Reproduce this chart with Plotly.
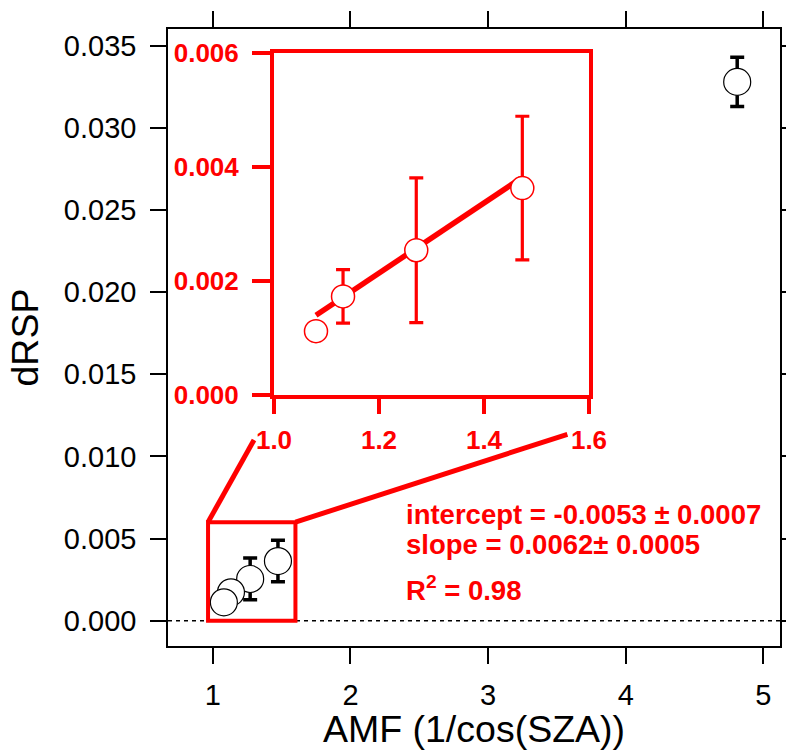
import plotly.graph_objects as go

# ---------------- data ----------------
amf = [4.81, 1.473, 1.271, 1.1315, 1.08]
drsp = [0.0328, 0.00363, 0.00254, 0.00173, 0.00112]
drsp_err = [0.0015, 0.00126, 0.00127, 0.00047, 0.0]

inset_amf = [1.473, 1.271, 1.1315, 1.08]
inset_drsp = [0.00363, 0.00254, 0.00173, 0.00112]
inset_err = [0.00126, 0.00127, 0.00047, 0.0]

fit_x = [1.08, 1.47]
fit_y = [0.0014, 0.0038]

x_ticks = [1, 2, 3, 4, 5]
y_ticks = [0.000, 0.005, 0.010, 0.015, 0.020, 0.025, 0.030, 0.035]
inset_x_ticks = [1.0, 1.2, 1.4, 1.6]
inset_y_ticks = [0.000, 0.002, 0.004, 0.006]

zoom_box_x = [0.965, 1.6]
zoom_box_y = [0.0, 0.006]
link_left_end = [1.299, 0.0110]
link_right_end = [3.576, 0.01135]

fit_text = ["intercept = -0.0053 ± 0.0007",
            "slope = 0.0062± 0.0005",
            "R<sup>2</sup> = 0.98"]

# ---------------- figure ----------------
FONT = "Liberation Sans, Arial, sans-serif"
RED = "#ff0000"

fig = go.Figure()

fig.add_trace(go.Scatter(
    x=amf, y=drsp, mode="markers",
    marker=dict(symbol="circle", size=27, color="white",
                line=dict(color="black", width=1.2)),
    error_y=dict(type="data", array=drsp_err, visible=True,
                 color="black", thickness=3.5, width=7),
    xaxis="x", yaxis="y", hoverinfo="skip"))

fig.add_trace(go.Scatter(
    x=fit_x, y=fit_y, mode="lines",
    line=dict(color=RED, width=5.5),
    xaxis="x2", yaxis="y2", hoverinfo="skip"))

fig.add_trace(go.Scatter(
    x=inset_amf, y=inset_drsp, mode="markers",
    marker=dict(symbol="circle", size=23, color="white",
                line=dict(color=RED, width=1.5)),
    error_y=dict(type="data", array=inset_err, visible=True,
                 color=RED, thickness=3.2, width=7),
    xaxis="x2", yaxis="y2", hoverinfo="skip"))

main_axis = dict(showgrid=False, zeroline=False, showline=True,
                 linecolor="black", linewidth=1.5, mirror="allticks",
                 ticks="outside", ticklen=16, tickwidth=1.5,
                 tickcolor="black", automargin=False,
                 tickfont=dict(family=FONT, size=29, color="black"))

inset_axis = dict(showgrid=False, zeroline=False, showline=True,
                  linecolor=RED, linewidth=4, mirror=True,
                  ticks="outside", tickwidth=3.5, tickcolor=RED,
                  automargin=False,
                  tickfont=dict(family=FONT, size=26, color=RED,
                                weight="bold"))

fig.update_layout(
    width=786, height=750,
    margin=dict(l=168, r=6, t=29, b=104),
    plot_bgcolor="white", paper_bgcolor="white",
    showlegend=False,
    font=dict(family=FONT, color="black"),
    xaxis=dict(main_axis, range=[0.674, 5.121], tickvals=x_ticks,
               ticklabelstandoff=6,
               title=dict(text="AMF (1/cos(SZA))", standoff=1,
                          font=dict(family=FONT, size=37.5, color="black"))),
    yaxis=dict(main_axis, range=[-0.00154, 0.03602], tickvals=y_ticks,
               tickformat=".3f", ticklabelstandoff=8,
               title=dict(text="dRSP", standoff=14,
                          font=dict(family=FONT, size=37.5, color="black"))),
    xaxis2=dict(inset_axis, domain=[0.1732, 0.6879], anchor="y2",
                range=[1.0, 1.6], tickvals=inset_x_ticks,
                tickformat=".1f", ticklen=15, ticklabelstandoff=4),
    yaxis2=dict(inset_axis, domain=[0.4068, 0.9611], anchor="x2",
                range=[0, 0.006], tickvals=inset_y_ticks,
                tickformat=".3f", ticklen=18, ticklabelstandoff=8),
)

# dotted zero line
fig.add_shape(type="line", xref="x domain", yref="y", x0=0, x1=1,
              y0=0, y1=0, line=dict(color="black", width=1.5,
                                    dash="4px,4px"), layer="below")

# zoom box and connecting lines
fig.add_shape(type="rect", xref="x", yref="y",
              x0=zoom_box_x[0], x1=zoom_box_x[1],
              y0=zoom_box_y[0], y1=zoom_box_y[1],
              line=dict(color=RED, width=4))
fig.add_shape(type="line", xref="x", yref="y",
              x0=zoom_box_x[0], y0=zoom_box_y[1],
              x1=link_left_end[0], y1=link_left_end[1],
              line=dict(color=RED, width=5))
fig.add_shape(type="line", xref="x", yref="y",
              x0=zoom_box_x[1], y0=zoom_box_y[1],
              x1=link_right_end[0], y1=link_right_end[1],
              line=dict(color=RED, width=5))

# fit annotation
ann_y = [0.2139, 0.1653, 0.0924]
for txt, yy in zip(fit_text, ann_y):
    fig.add_annotation(xref="paper", yref="paper", x=0.385, y=yy,
                       xanchor="left", yanchor="middle", showarrow=False,
                       text=txt,
                       font=dict(family=FONT, size=27.5, color=RED,
                                 weight="bold"))

fig.write_html(
    "out.html",
    config={"displayModeBar": False},
    post_script="document.body.style.margin='0px';"
                "document.body.style.overflow='hidden';")
